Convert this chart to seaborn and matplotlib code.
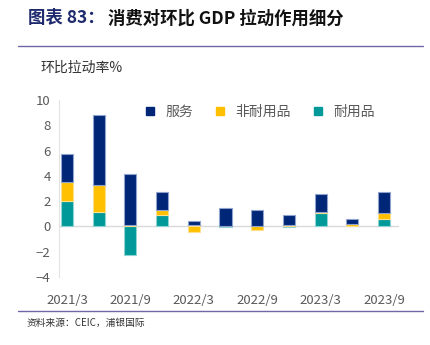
import matplotlib
matplotlib.use("Agg")
import matplotlib.pyplot as plt
import seaborn as sns
import numpy as np
import pandas as pd
from matplotlib.lines import Line2D

quarters = ["2021/3", "2021/6", "2021/9", "2021/12", "2022/3", "2022/6",
            "2022/9", "2022/12", "2023/3", "2023/6", "2023/9"]
durable = [2.05, 1.15, -2.26, 0.87, 0.10, -0.05, 0.05, -0.05, 1.05, 0.05, 0.58]
nondurable = [1.47, 2.10, 0.13, 0.42, -0.42, 0.05, -0.25, 0.10, 0.11, 0.15, 0.50]
services = [2.20, 5.54, 4.02, 1.44, 0.29, 1.37, 1.26, 0.77, 1.39, 0.40, 1.65]
tick_labels = ["2021/3", "2021/9", "2022/3", "2022/9", "2023/3", "2023/9"]

sns.set_theme(style="white")
plt.rcParams['font.family'] = ['Noto Sans CJK SC', 'DejaVu Sans']

fig = plt.figure(figsize=(4.31, 3.45), dpi=100)
ax = fig.add_axes([59 / 431, 1 - 277 / 345, 340 / 431, 177 / 345])

colors = {"服务": "#002677", "非耐用品": "#FFC000", "耐用品": "#009999"}
edges = {"服务": "#8FA3CC", "非耐用品": "#FFE08A", "耐用品": "#8FD3D3"}

pos_cum = np.zeros(len(quarters))
neg_cum = np.zeros(len(quarters))
for name, vals in [("耐用品", durable), ("非耐用品", nondurable), ("服务", services)]:
    v = np.array(vals, dtype=float)
    bottom = np.where(v >= 0, pos_cum, neg_cum)
    df = pd.DataFrame({"q": quarters, "v": v})
    sns.barplot(data=df, x="q", y="v", ax=ax, color=colors[name], width=0.38,
                bottom=bottom, edgecolor=edges[name], linewidth=0.8,
                saturation=1, errorbar=None)
    pos_cum = pos_cum + np.where(v >= 0, v, 0)
    neg_cum = neg_cum + np.where(v < 0, v, 0)

ax.set_ylim(-4, 10)
ax.set_yticks(range(-4, 11, 2))
ax.set_xlim(-0.25, 10.47)
ax.set_xticks(range(0, 11, 2))
ax.set_xticklabels(tick_labels)
ax.set_xlabel("")
ax.set_ylabel("")
ax.axhline(0, color="#D9D9D9", linewidth=1, zorder=0.5)
for s in ["top", "right", "bottom"]:
    ax.spines[s].set_visible(False)
ax.spines["left"].set_color("#E3E3E3")
ax.spines["left"].set_linewidth(0.8)
ax.tick_params(axis="both", length=0, labelsize=9.5, colors="#595959", pad=6)
ax.tick_params(axis="x", pad=12)

handles = [Line2D([], [], marker="s", linestyle="", markersize=6,
                  color=colors[n], label=n) for n in ["服务", "非耐用品", "耐用品"]]
leg = ax.legend(handles=handles, loc="center left", ncol=3, frameon=False,
                bbox_to_anchor=(0.19, 0.933), fontsize=10, handletextpad=0.1,
                columnspacing=0.95, labelcolor="#595959")

fig.text(0.065, 0.947, "图表 83：", fontsize=12.5, fontweight="bold", color="#1F2A6E", va="center")
fig.text(0.25, 0.947, "消费对环比 GDP 拉动作用细分", fontsize=12.5, fontweight="bold", color="#111111", va="center")
fig.add_artist(Line2D([0.042, 0.982], [1 - 46 / 345, 1 - 46 / 345], color="#6E66A8", linewidth=1, transform=fig.transFigure))
fig.text(0.093, 1 - 68 / 345, "环比拉动率%", fontsize=10, color="#333333", va="center")
fig.add_artist(Line2D([0.042, 0.982], [1 - 311 / 345, 1 - 311 / 345], color="#6E66A8", linewidth=1, transform=fig.transFigure))
fig.text(0.062, 1 - 323 / 345, "资料来源：CEIC，浦银国际", fontsize=7, color="#333333", va="center")

fig.savefig("out.png", dpi=100)
